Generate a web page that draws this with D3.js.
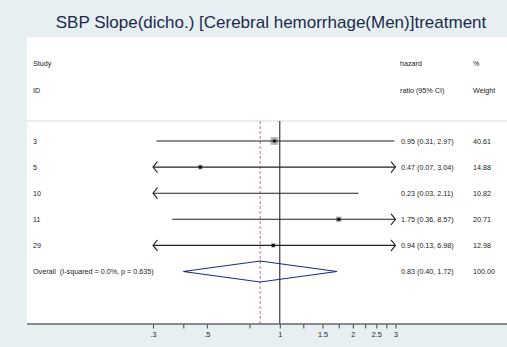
<!DOCTYPE html>
<html><head><meta charset="utf-8">
<script src="https://cdn.jsdelivr.net/npm/d3@7"></script>
<style>body{margin:0;background:#e8eff2}svg{display:block}text{white-space:pre}</style>
</head><body>
<script>
const titleText = "SBP Slope(dicho.) [Cerebral hemorrhage(Men)]treatment";
const studies = ["3", "5", "10", "11", "29"];
const hr = [0.95, 0.47, 0.23, 1.75, 0.94];
const lower = [0.31, 0.07, 0.03, 0.36, 0.13];
const upper = [2.97, 3.04, 2.11, 8.57, 6.98];
const weights = [40.61, 14.88, 10.82, 20.71, 12.98];
const overallLabel = "Overall  (I-squared = 0.0%, p = 0.635)";
const overall = [0.83, 0.40, 1.72];
const overallWeight = "100.00";
const tickValues = [0.3, 0.4, 0.5, 0.75, 1, 1.25, 1.5, 1.75, 2, 2.25, 2.5, 2.75, 3];
const tickLabels = {0.3: ".3", 0.5: ".5", 1: "1", 1.5: "1.5", 2: "2", 2.5: "2.5", 3: "3"};

const W = 507, H = 347;
const svg = d3.select("body").append("svg").attr("width", W).attr("height", H);
const font = "Liberation Sans, Arial, sans-serif";

svg.append("rect").attr("width", W).attr("height", H).attr("fill", "#e8eff2");
svg.append("rect").attr("x", 27).attr("y", 37).attr("width", W - 27).attr("height", 324 - 37).attr("fill", "#ffffff");

svg.append("text").attr("x", 271).attr("y", 28).attr("text-anchor", "middle")
  .attr("font-family", font).attr("font-size", 17).attr("fill", "#1c2a4c").text(titleText);

const x = d3.scaleLog().domain([0.3, 3]).range([153, 395.5]);
const y = d3.scalePoint().domain(d3.range(studies.length + 1)).range([141, 271.5]);
const fmt = d3.format(".2f");

const tsize = 7.2;
function txt(xx, yy, s, anchor) {
  svg.append("text").attr("x", xx).attr("y", yy).attr("dy", "0.35em")
    .attr("xml:space", "preserve")
    .attr("text-anchor", anchor || "start").attr("font-family", font)
    .attr("font-size", tsize).attr("fill", "#222").text(s);
}
txt(33, 63.5, "Study"); txt(33, 90, "ID");
txt(400, 63.5, "hazard"); txt(400, 90, "ratio (95% CI)");
txt(473, 63.5, "%"); txt(473, 90, "Weight");

// separator
svg.append("line").attr("x1", 27).attr("x2", W).attr("y1", 121).attr("y2", 121)
  .attr("stroke", "#d8d8d8").attr("stroke-width", 1);

// null line & overall line
svg.append("line").attr("x1", x(1)).attr("x2", x(1)).attr("y1", 121).attr("y2", 324)
  .attr("stroke", "#111").attr("stroke-width", 1);
svg.append("line").attr("x1", x(overall[0])).attr("x2", x(overall[0])).attr("y1", 121).attr("y2", 324)
  .attr("stroke", "#d46a7a").attr("stroke-width", 1).attr("stroke-dasharray", "3,2");

const [dmin, dmax] = x.domain();
const maxW = d3.max(weights);
studies.forEach((s, i) => {
  const yy = y(i);
  txt(33, yy, s);
  const l = Math.max(lower[i], dmin), u = Math.min(upper[i], dmax);
  const inRange = hr[i] >= dmin && hr[i] <= dmax;
  if (inRange) {
    const side = 7.7 * Math.sqrt(weights[i] / maxW);
    svg.append("rect").attr("x", x(hr[i]) - side / 2).attr("y", yy - side / 2)
      .attr("width", side).attr("height", side).attr("fill", "#b4b4b4");
  }
  svg.append("line").attr("x1", x(l)).attr("x2", x(u)).attr("y1", yy).attr("y2", yy)
    .attr("stroke", "#222").attr("stroke-width", 1.1);
  if (lower[i] < dmin) {
    svg.append("path").attr("d", `M${x(l) + 4.5},${yy - 5.5}L${x(l)},${yy}L${x(l) + 4.5},${yy + 5.5}`)
      .attr("fill", "none").attr("stroke", "#222").attr("stroke-width", 1.1);
  }
  if (upper[i] > dmax) {
    svg.append("path").attr("d", `M${x(u) - 4.5},${yy - 5.5}L${x(u)},${yy}L${x(u) - 4.5},${yy + 5.5}`)
      .attr("fill", "none").attr("stroke", "#222").attr("stroke-width", 1.1);
  }
  if (inRange) {
    svg.append("rect").attr("x", x(hr[i]) - 1.5).attr("y", yy - 1.5)
      .attr("width", 3).attr("height", 3).attr("fill", "#111");
  }
  txt(401, yy, `${fmt(hr[i])} (${fmt(lower[i])}, ${fmt(upper[i])})`);
  txt(473, yy, fmt(weights[i]));
});

// overall
const oy = y(studies.length);
txt(33, oy, overallLabel);
svg.append("path")
  .attr("d", `M${x(overall[1])},${oy}L${x(overall[0])},${oy - 10.5}L${x(overall[2])},${oy}L${x(overall[0])},${oy + 10.5}Z`)
  .attr("fill", "none").attr("stroke", "#1e2a8a").attr("stroke-width", 1.1);
txt(401, oy, `${fmt(overall[0])} (${fmt(overall[1])}, ${fmt(overall[2])})`);
txt(473, oy, overallWeight);

// axis
svg.append("line").attr("x1", 27).attr("x2", W).attr("y1", 324).attr("y2", 324)
  .attr("stroke", "#666").attr("stroke-width", 1.5);
const axis = d3.axisBottom(x).tickValues(tickValues).tickSize(4).tickPadding(3.5)
  .tickFormat(d => tickLabels[d] || "");
const ag = svg.append("g").attr("transform", "translate(0,324.5)").call(axis);
ag.select(".domain").remove();
ag.selectAll("line").attr("stroke", "#444");
ag.selectAll("text").attr("font-family", font).attr("font-size", tsize).attr("fill", "#222");
</script>
</body></html>
